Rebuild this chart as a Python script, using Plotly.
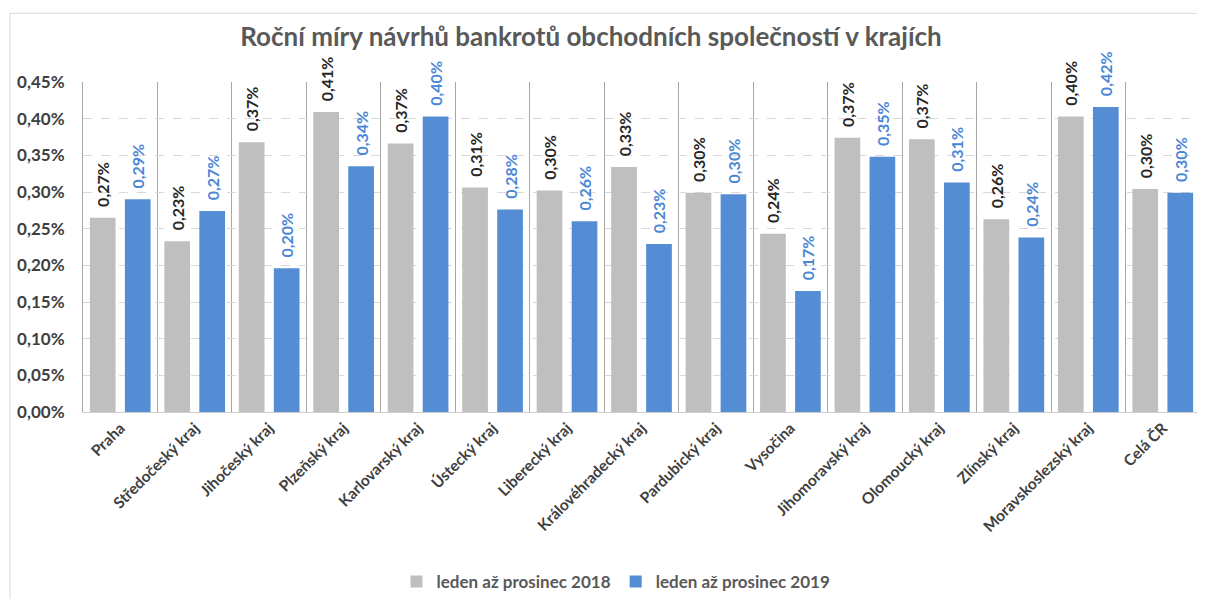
import plotly.graph_objects as go

categories = ["Praha", "Středočeský kraj", "Jihočeský kraj", "Plzeňský kraj", "Karlovarský kraj",
              "Ústecký kraj", "Liberecký kraj", "Královéhradecký kraj", "Pardubický kraj", "Vysočina",
              "Jihomoravský kraj", "Olomoucký kraj", "Zlínský kraj", "Moravskoslezský kraj", "Celá ČR"]
values_2018 = [0.00265, 0.00233, 0.00368, 0.00409, 0.00366,
               0.00306, 0.00302, 0.00334, 0.00299, 0.00243,
               0.00374, 0.00372, 0.00263, 0.00403, 0.00304]
values_2019 = [0.00290, 0.00274, 0.00196, 0.00335, 0.00403,
               0.00276, 0.00260, 0.00229, 0.00297, 0.00165,
               0.00348, 0.00313, 0.00238, 0.00416, 0.00299]
series_names = ["leden až prosinec 2018", "leden až prosinec 2019"]
y_ticks = [0, 0.0005, 0.001, 0.0015, 0.002, 0.0025, 0.003, 0.0035, 0.004, 0.0045]

FONT = "Lato"
GRAY = "#bfbfbf"
BLUE = "#548dd4"

# page has an 8px body margin; figure is sized to fit the window
OFF = 8
W, H = 1205 - OFF, 599 - OFF
PL, PT, PW, PH = 83 - OFF, 82 - OFF, 1117, 330

fig = go.Figure()
fig.add_trace(go.Bar(
    x=categories, y=values_2018, name=series_names[0],
    marker=dict(color=GRAY, line=dict(width=0)),
    texttemplate="\u00a0\u00a0%{y:.2%}", textposition="outside", textangle=-90,
    constraintext="none", cliponaxis=False,
    textfont=dict(family=FONT, size=16, color="#262626", weight="bold"),
))
fig.add_trace(go.Bar(
    x=categories, y=values_2019, name=series_names[1],
    marker=dict(color=BLUE, line=dict(width=0)),
    texttemplate="\u00a0\u00a0%{y:.2%}", textposition="outside", textangle=-90,
    constraintext="none", cliponaxis=False,
    textfont=dict(family=FONT, size=16, color="#4a86d6", weight="bold"),
))

fig.update_layout(
    width=W, height=H,
    margin=dict(l=PL, r=W - PL - PW, t=PT, b=H - PT - PH, autoexpand=False),
    paper_bgcolor="white", plot_bgcolor="white",
    separators=", ",
    barmode="group", bargap=0.06, bargroupgap=0.266,
    title=dict(text="<b>Roční míry návrhů bankrotů obchodních společností v krajích</b>",
               x=(591 - OFF) / W, xref="container", xanchor="center",
               y=1 - (37 - OFF) / H, yref="container", yanchor="middle",
               font=dict(family=FONT, size=26, color="#595959")),
    font=dict(family=FONT),
    showlegend=True,
    legend=dict(orientation="h", x=(616 - OFF) / W, xref="container", xanchor="center",
                y=1 - (582 - OFF) / H, yref="container", yanchor="middle",
                font=dict(family=FONT, size=17, color="#595959", weight="bold"),
                itemwidth=30, traceorder="normal"),
    xaxis=dict(
        type="category", tickson="boundaries", showgrid=True, gridcolor="#a6a6a6", gridwidth=1,
        ticks="", tickangle=-45,
        tickfont=dict(family=FONT, size=15.5, color="#404040", weight="bold"),
        showline=True, linecolor="#d0d0d0", linewidth=1,
        range=[-0.5, 14.5],
    ),
    yaxis=dict(
        range=[0, 0.0045], tickvals=y_ticks, tickformat=".2%",
        showgrid=True, gridcolor="#d9d9d9", griddash="dash", gridwidth=1,
        zeroline=False, showline=True, linecolor="#a6a6a6", linewidth=1,
        ticks="", ticklabelstandoff=14,
        tickfont=dict(family=FONT, size=17, color="#404040", weight="bold"),
    ),
    shapes=[dict(type="rect", xref="paper", yref="paper",
                 x0=(10 - 83) / PW, x1=1.05, y0=-0.7, y1=(411.7 - 13) / PH,
                 line=dict(color="#d9d9d9", width=1), fillcolor="rgba(0,0,0,0)", layer="below")],
)

fig.write_html("out.html")
